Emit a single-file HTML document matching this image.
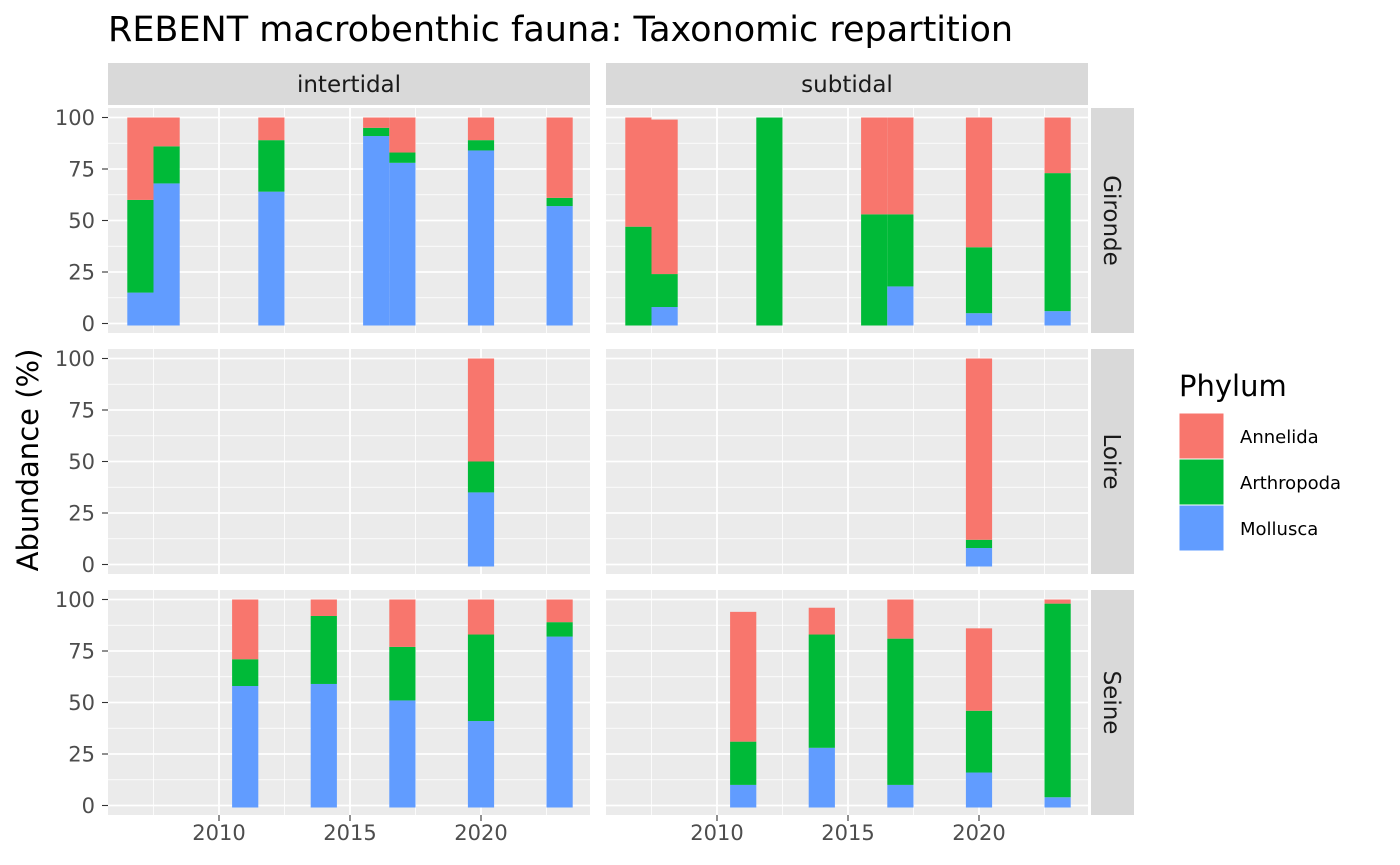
<!DOCTYPE html>
<html><head><meta charset="utf-8"><style>
html,body{margin:0;padding:0;background:#fff;}
svg{display:block;font-family:"DejaVu Sans","Liberation Sans",sans-serif;}
</style></head><body>
<svg id="c" width="1400" height="865"></svg>
<script>
const phyla = ["Mollusca","Arthropoda","Annelida"];
const colors = {Annelida:"#F8766D",Arthropoda:"#00BA38",Mollusca:"#619CFF"};
const sites = ["Gironde","Loire","Seine"];
const zones = ["intertidal","subtidal"];
// [year, mollusca, arthropoda, annelida]
const giIntertidal = [[2007,15,45,40],[2008,68,18,14],[2012,64,25,11],[2016,91,4,5],[2017,78,5,17],[2020,84,5,11],[2023,57,4,39]];
const giSubtidal = [[2007,0,47,53],[2008,8,16,75],[2012,0,100,0],[2016,0,53,47],[2017,18,35,47],[2020,5,32,63],[2023,6,67,27]];
const loIntertidal = [[2020,35,15,50]];
const loSubtidal = [[2020,8,4,88]];
const seIntertidal = [[2011,58,13,29],[2014,59,33,8],[2017,51,26,23],[2020,41,42,17],[2023,82,7,11]];
const seSubtidal = [[2011,10,21,63],[2014,28,55,13],[2017,10,71,19],[2020,16,30,40],[2023,4,94,2]];
const panelData = [[giIntertidal,giSubtidal],[loIntertidal,loSubtidal],[seIntertidal,seSubtidal]];
const yTicks = [0,25,50,75,100];
const xTicks = [2010,2015,2020];

const NS="http://www.w3.org/2000/svg";
const svg=document.getElementById('c');
function el(t,a,p){const e=document.createElementNS(NS,t);for(const k in a)e.setAttribute(k,a[k]);(p||svg).appendChild(e);return e;}
const panelX=[108,606], panelW=482, rowY=[108,349,590], rowH=225;
function xs(col,yr){return panelX[col]+111+(yr-2010)*26.2;}
function ys(row,v){return rowY[row]+215.5-v*2.06;}

const title=el('text',{x:108,y:41,'font-size':35,fill:'#000'});
title.textContent="REBENT macrobenthic fauna: Taxonomic repartition";



zones.forEach((z,c)=>{
  const s=el('rect',{x:panelX[c],y:63,width:panelW,height:42,fill:'#D9D9D9'});
  
  
  const t=el('text',{x:panelX[c]+panelW/2,y:92,'font-size':23,fill:'#1a1a1a','text-anchor':'middle'});
  t.textContent=z;
  
  
});
sites.forEach((st,r)=>{
  const s=el('rect',{x:1091,y:rowY[r],width:43,height:rowH,fill:'#D9D9D9'});
  
  
  const cy=rowY[r]+rowH/2;
  const t=el('text',{x:1104,y:cy,'font-size':23,fill:'#1a1a1a','text-anchor':'middle',transform:`rotate(90 1104 ${cy})`});
  t.textContent=st;
  
  
});

sites.forEach((st,r)=>{zones.forEach((z,c)=>{
  const g=el('g',{});
  
  
  el('rect',{x:panelX[c],y:rowY[r],width:panelW,height:rowH,fill:'#EBEBEB'},g);
  for(let v=12.5;v<100;v+=25){const y=ys(r,v);el('line',{x1:panelX[c],x2:panelX[c]+panelW,y1:y,y2:y,stroke:'#fff','stroke-width':0.8},g);}
  [2007.5,2012.5,2017.5,2022.5].forEach(yr=>{const x=xs(c,yr);el('line',{x1:x,x2:x,y1:rowY[r],y2:rowY[r]+rowH,stroke:'#fff','stroke-width':0.8},g);});
  yTicks.forEach(v=>{const y=ys(r,v);el('line',{x1:panelX[c],x2:panelX[c]+panelW,y1:y,y2:y,stroke:'#fff','stroke-width':1.8},g);});
  xTicks.forEach(yr=>{const x=xs(c,yr);el('line',{x1:x,x2:x,y1:rowY[r],y2:rowY[r]+rowH,stroke:'#fff','stroke-width':1.8},g);});
  panelData[r][c].forEach(d=>{
    let cum=0;
    phyla.forEach((p,i)=>{
      const v=d[i+1]; if(v<=0){return;}
      const y1=ys(r,cum)+(cum===0?2:0),y2=ys(r,cum+v);cum+=v;
      const b=el('rect',{x:xs(c,d[0]-0.5),y:y2,width:26.2,height:y1-y2,fill:colors[p]},g);
      
      
    });
  });
});});

sites.forEach((st,r)=>{yTicks.forEach(v=>{
  const y=ys(r,v);
  el('line',{x1:102,x2:108,y1:y,y2:y,stroke:'#333','stroke-width':1.1});
  const t=el('text',{x:95,y:y+7.5,'font-size':21,fill:'#4d4d4d','text-anchor':'end'});
  t.textContent=v;
  
  
});});
zones.forEach((z,c)=>{xTicks.forEach(yr=>{
  const x=xs(c,yr);
  el('line',{x1:x,x2:x,y1:815,y2:821,stroke:'#333','stroke-width':1.1});
  const t=el('text',{x:x,y:840,'font-size':21,fill:'#4d4d4d','text-anchor':'middle'});
  t.textContent=yr;
  
  
});});
const yt=el('text',{x:38,y:460,'font-size':29,fill:'#000','text-anchor':'middle',transform:'rotate(-90 38 460)'});
yt.textContent="Abundance (%)";



const lg=el('g',{});


const lt=el('text',{x:1179,y:396,'font-size':29,fill:'#000'},lg);
lt.textContent="Phylum";


["Annelida","Arthropoda","Mollusca"].forEach((p,i)=>{
  const y=413+i*46;
  const k=el('rect',{x:1179,y:y,width:45,height:46,fill:colors[p],stroke:'#fff','stroke-width':1},lg);
  
  
  const t=el('text',{x:1240,y:y+30,'font-size':18,fill:'#000'},lg);
  t.textContent=p;
  
  
});
</script>
</body></html>
